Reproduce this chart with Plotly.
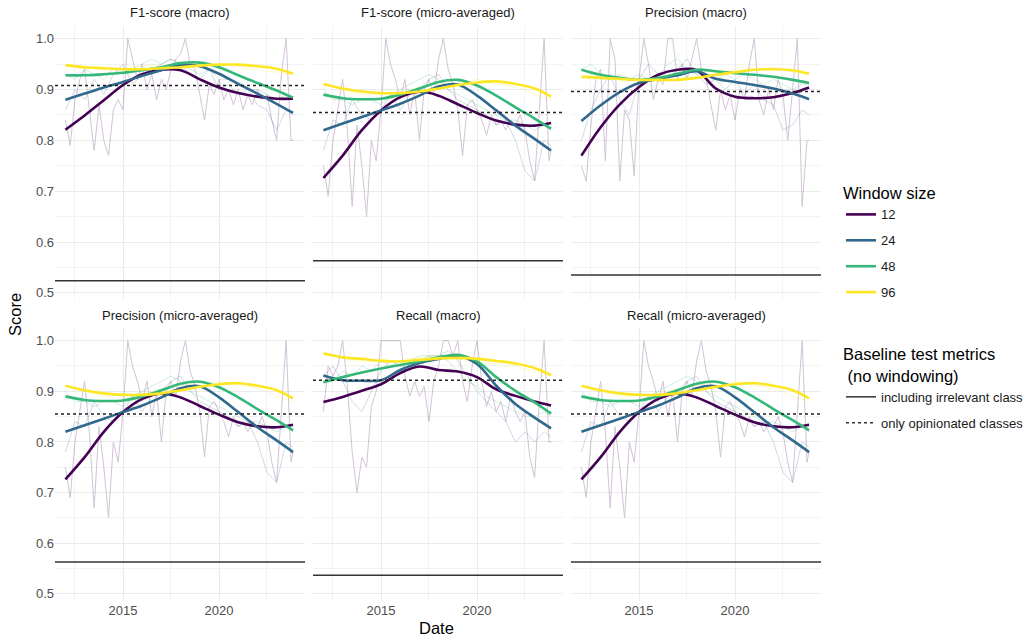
import plotly.graph_objects as go

# ---------------- data ----------------
WINDOW_SIZES = ["12", "24", "48", "96"]
COLORS = ["#440154", "#31688E", "#35B779", "#FDE725"]

PANEL_TITLES = ["F1-score (macro)", "F1-score (micro-averaged)", "Precision (macro)",
                "Precision (micro-averaged)", "Recall (macro)", "Recall (micro-averaged)"]

SMOOTH_DATES = ["2012-01-01", "2013-01-01", "2014-01-01", "2015-01-01", "2016-01-01",
                "2017-01-01", "2018-01-01", "2019-01-01", "2020-01-01", "2021-01-01",
                "2022-01-01", "2023-01-01", "2023-11-10"]
RAW_Q_DATES = [f"{y}-{m:02d}-01" for y in range(2012, 2024) for m in (1, 4, 7, 10)] + ["2023-11-10"]
RAW_H_DATES = [f"{y}-{m:02d}-01" for y in range(2012, 2024) for m in (1, 7)] + ["2023-11-10"]

X_TICKS = ["2015-01-01", "2020-01-01"]
X_TICK_TEXT = ["2015", "2020"]
X_MINOR = ["2012-07-01", "2017-07-01", "2022-07-01"]
Y_TICKS = [0.5, 0.6, 0.7, 0.8, 0.9, 1.0]
Y_MINOR = [0.55, 0.65, 0.75, 0.85, 0.95]

# smoothed trends (one value per SMOOTH_DATES entry)
F1_MACRO_SMOOTH = {
    "12": [0.821, 0.849, 0.879, 0.909, 0.930, 0.939, 0.938, 0.920, 0.904, 0.893, 0.886, 0.882, 0.882],
    "24": [0.880, 0.892, 0.904, 0.915, 0.927, 0.938, 0.948, 0.946, 0.931, 0.911, 0.892, 0.872, 0.854],
    "48": [0.928, 0.928, 0.930, 0.933, 0.938, 0.944, 0.952, 0.953, 0.944, 0.928, 0.913, 0.898, 0.884],
    "96": [0.948, 0.944, 0.942, 0.940, 0.940, 0.942, 0.944, 0.947, 0.949, 0.949, 0.946, 0.941, 0.931],
}
MICRO_SMOOTH = {
    "12": [0.726, 0.770, 0.820, 0.859, 0.885, 0.896, 0.888, 0.871, 0.854, 0.839, 0.831, 0.829, 0.834],
    "24": [0.820, 0.833, 0.846, 0.859, 0.872, 0.888, 0.906, 0.910, 0.888, 0.859, 0.829, 0.803, 0.780],
    "48": [0.890, 0.883, 0.881, 0.882, 0.890, 0.902, 0.915, 0.919, 0.908, 0.888, 0.865, 0.843, 0.823],
    "96": [0.911, 0.902, 0.896, 0.893, 0.893, 0.896, 0.902, 0.909, 0.914, 0.916, 0.911, 0.902, 0.886],
}
PREC_MACRO_SMOOTH = {
    "12": [0.770, 0.826, 0.871, 0.905, 0.929, 0.939, 0.938, 0.902, 0.886, 0.883, 0.885, 0.893, 0.904],
    "24": [0.838, 0.869, 0.895, 0.913, 0.921, 0.928, 0.936, 0.921, 0.915, 0.909, 0.902, 0.892, 0.881],
    "48": [0.939, 0.929, 0.923, 0.919, 0.923, 0.931, 0.939, 0.936, 0.932, 0.929, 0.925, 0.919, 0.913],
    "96": [0.925, 0.923, 0.921, 0.919, 0.919, 0.919, 0.923, 0.929, 0.934, 0.939, 0.940, 0.938, 0.931],
}
REC_MACRO_SMOOTH = {
    "12": [0.879, 0.889, 0.901, 0.914, 0.936, 0.949, 0.942, 0.939, 0.928, 0.904, 0.891, 0.880, 0.872],
    "24": [0.931, 0.922, 0.921, 0.922, 0.942, 0.956, 0.964, 0.970, 0.954, 0.911, 0.875, 0.848, 0.827],
    "48": [0.918, 0.928, 0.937, 0.945, 0.952, 0.959, 0.967, 0.972, 0.959, 0.928, 0.901, 0.878, 0.856],
    "96": [0.975, 0.967, 0.964, 0.960, 0.959, 0.962, 0.965, 0.966, 0.964, 0.960, 0.955, 0.946, 0.932],
}

# raw windowed scores: window 12 quarterly (RAW_Q_DATES), others half-yearly (RAW_H_DATES)
F1_MACRO_RAW = {
    "12": [0.84, 0.79, 0.88, 0.92, 0.94, 0.86, 0.78, 0.87, 0.80, 0.77, 0.86, 0.88,
           0.86, 1.00, 0.96, 0.92, 0.95, 0.90, 0.93, 0.88, 0.92, 0.90, 0.94, 0.96,
           0.97, 1.00, 0.95, 0.94, 0.89, 0.84, 0.91, 0.89, 0.92, 0.88, 0.90, 0.87,
           0.90, 0.86, 0.89, 0.87, 0.90, 0.88, 0.89, 0.84, 0.80, 0.93, 1.00, 0.80, 0.80],
    "24": [0.86, 0.90, 0.88, 0.92, 0.89, 0.93, 0.95, 0.91, 0.93, 0.94, 0.95, 0.96,
           0.95, 0.93, 0.92, 0.94, 0.90, 0.91, 0.89, 0.90, 0.87, 0.86, 0.82, 0.86, 0.85],
    "48": [0.93, 0.92, 0.94, 0.93, 0.92, 0.94, 0.93, 0.94, 0.95, 0.96, 0.95, 0.96,
           0.95, 0.94, 0.93, 0.94, 0.92, 0.92, 0.91, 0.90, 0.90, 0.89, 0.88, 0.89, 0.88],
    "96": [0.95, 0.945, 0.94, 0.945, 0.94, 0.94, 0.94, 0.945, 0.945, 0.95, 0.945, 0.95,
           0.95, 0.955, 0.95, 0.95, 0.945, 0.95, 0.945, 0.94, 0.94, 0.935, 0.935, 0.93, 0.93],
}
MICRO_RAW = {
    "12": [0.75, 0.69, 0.80, 0.86, 0.92, 0.82, 0.67, 0.83, 0.75, 0.65, 0.80, 0.76,
           0.86, 1.00, 0.95, 0.92, 0.88, 0.92, 0.85, 0.90, 0.80, 0.90, 0.92, 0.89,
           0.96, 1.00, 0.94, 0.91, 0.86, 0.77, 0.87, 0.88, 0.86, 0.84, 0.81, 0.85,
           0.83, 0.84, 0.82, 0.84, 0.83, 0.85, 0.82, 0.76, 0.72, 0.85, 1.00, 0.76, 0.78],
    "24": [0.78, 0.84, 0.83, 0.88, 0.85, 0.84, 0.86, 0.89, 0.86, 0.89, 0.90, 0.92,
           0.93, 0.90, 0.88, 0.87, 0.86, 0.85, 0.83, 0.84, 0.80, 0.74, 0.72, 0.80, 0.79],
    "48": [0.90, 0.88, 0.88, 0.87, 0.88, 0.88, 0.87, 0.89, 0.90, 0.91, 0.92, 0.93,
           0.92, 0.90, 0.89, 0.88, 0.87, 0.86, 0.85, 0.84, 0.84, 0.83, 0.82, 0.83, 0.82],
    "96": [0.91, 0.905, 0.90, 0.895, 0.89, 0.89, 0.895, 0.89, 0.895, 0.90, 0.905, 0.91,
           0.91, 0.915, 0.92, 0.915, 0.92, 0.915, 0.91, 0.91, 0.905, 0.90, 0.89, 0.885, 0.88],
}
PREC_MACRO_RAW = {
    "12": [0.75, 0.72, 0.83, 0.92, 0.94, 0.76, 1.00, 0.96, 0.72, 0.86, 0.84, 0.73,
           0.92, 1.00, 0.95, 0.88, 0.92, 0.91, 1.00, 1.00, 0.92, 0.95, 0.92, 0.96,
           1.00, 0.94, 0.92, 0.87, 0.82, 0.90, 0.86, 0.89, 0.84, 0.90, 0.88, 0.95,
           1.00, 0.88, 0.85, 0.90, 0.86, 0.92, 0.89, 0.80, 0.90, 1.00, 0.67, 0.80, 0.80],
    "24": [0.80, 0.86, 0.90, 0.93, 0.88, 0.85, 0.92, 0.95, 0.93, 0.92, 0.94, 0.96,
           0.93, 0.91, 0.92, 0.90, 0.92, 0.89, 0.91, 0.88, 0.87, 0.82, 0.83, 0.86, 0.85],
    "48": [0.94, 0.95, 0.93, 0.92, 0.93, 0.92, 0.93, 0.92, 0.93, 0.95, 0.96, 0.94,
           0.93, 0.93, 0.92, 0.93, 0.92, 0.93, 0.92, 0.91, 0.92, 0.91, 0.90, 0.91, 0.91],
    "96": [0.925, 0.93, 0.925, 0.92, 0.92, 0.915, 0.92, 0.92, 0.915, 0.92, 0.92, 0.925,
           0.93, 0.935, 0.935, 0.94, 0.94, 0.945, 0.94, 0.94, 0.945, 0.94, 0.935, 0.93, 0.93],
}
REC_MACRO_RAW = {
    "12": [0.86, 0.95, 0.93, 0.95, 1.00, 0.91, 0.78, 0.70, 0.77, 0.75, 0.87, 0.90,
           1.00, 1.00, 1.00, 1.00, 1.00, 0.93, 0.89, 0.92, 0.89, 0.91, 0.84, 0.92,
           0.95, 1.00, 1.00, 0.97, 1.00, 0.92, 0.88, 0.95, 1.00, 0.92, 0.87, 0.90,
           0.86, 0.88, 0.84, 0.89, 0.86, 0.84, 0.86, 0.77, 0.73, 0.88, 1.00, 0.80, 0.80],
    "24": [0.93, 0.95, 0.92, 0.88, 0.86, 0.90, 0.94, 0.96, 0.95, 0.94, 0.96, 0.97,
           0.97, 0.98, 0.96, 0.93, 0.90, 0.88, 0.86, 0.84, 0.80, 0.82, 0.80, 0.82, 0.81],
    "48": [0.93, 0.92, 0.94, 0.93, 0.95, 0.94, 0.96, 0.95, 0.96, 0.96, 0.97, 0.97,
           0.97, 0.96, 0.94, 0.92, 0.91, 0.89, 0.88, 0.87, 0.86, 0.85, 0.85, 0.86, 0.85],
    "96": [0.97, 0.97, 0.965, 0.96, 0.96, 0.96, 0.965, 0.96, 0.96, 0.965, 0.965, 0.97,
           0.97, 0.965, 0.965, 0.96, 0.96, 0.955, 0.955, 0.95, 0.95, 0.945, 0.94, 0.935, 0.93],
}

# baseline test metrics (no windowing): [including irrelevant class, only opinionated classes]
BASELINE_F1_MACRO = [0.524, 0.908]
BASELINE_MICRO = [0.563, 0.855]
BASELINE_PREC_MACRO = [0.535, 0.896]
BASELINE_REC_MACRO = [0.537, 0.922]
BASELINE_LABELS = ["including irrelevant class", "only opinionated classes"]

PANEL_SMOOTH = [F1_MACRO_SMOOTH, MICRO_SMOOTH, PREC_MACRO_SMOOTH, MICRO_SMOOTH, REC_MACRO_SMOOTH, MICRO_SMOOTH]
PANEL_RAW = [F1_MACRO_RAW, MICRO_RAW, PREC_MACRO_RAW, MICRO_RAW, REC_MACRO_RAW, MICRO_RAW]
PANEL_BASE = [BASELINE_F1_MACRO, BASELINE_MICRO, BASELINE_PREC_MACRO, BASELINE_MICRO,
              BASELINE_REC_MACRO, BASELINE_MICRO]

# ---------------- layout geometry (pixels) ----------------
W, H = 1030, 640
COL_PX = [(55, 305), (313, 563), (571, 821)]
ROW_PX = [(26, 300), (328, 601)]
FONT = "Liberation Sans, Arial, sans-serif"


def px_x(p):
    return p / W


def px_y(p):
    return 1 - p / H


fig = go.Figure()
layout = dict(
    width=W, height=H, margin=dict(l=0, r=0, t=0, b=0, autoexpand=False),
    paper_bgcolor="white", plot_bgcolor="white",
    font=dict(family=FONT, color="#1A1A1A"),
)
annotations = []
shapes = []

for i, title in enumerate(PANEL_TITLES):
    r, c = divmod(i, 3)
    n = "" if i == 0 else str(i + 1)
    xa, ya = "x" + n, "y" + n
    x0, x1 = COL_PX[c]
    y0, y1 = ROW_PX[r]
    layout["xaxis" + n] = dict(
        domain=[px_x(x0), px_x(x1)], anchor=ya, type="date",
        range=["2011-06-17", "2024-06-24"],
        tickmode="array", tickvals=X_TICKS, ticktext=X_TICK_TEXT,
        showticklabels=(r == 1), ticks="", showline=False, zeroline=False,
        showgrid=True, gridcolor="#EBEBEB", gridwidth=1,
        minor=dict(tickmode="array", tickvals=X_MINOR, showgrid=True,
                   gridcolor="#F3F3F3", gridwidth=0.7, ticks=""),
        tickfont=dict(size=13, color="#4D4D4D", family=FONT),
    )
    layout["yaxis" + n] = dict(
        domain=[px_y(y1), px_y(y0)], anchor=xa, range=[0.486, 1.025],
        tickmode="array", tickvals=Y_TICKS, tickformat=".1f",
        showticklabels=(c == 0), ticks="", showline=False, zeroline=False,
        showgrid=True, gridcolor="#EBEBEB", gridwidth=1,
        minor=dict(tickmode="array", tickvals=Y_MINOR, showgrid=True,
                   gridcolor="#F3F3F3", gridwidth=0.7, ticks=""),
        tickfont=dict(size=13, color="#4D4D4D", family=FONT),
    )
    # raw (faint) lines
    for k, w in enumerate(WINDOW_SIZES):
        dates = RAW_Q_DATES if w == "12" else RAW_H_DATES
        fig.add_trace(go.Scatter(
            x=dates, y=PANEL_RAW[i][w], mode="lines", xaxis=xa, yaxis=ya,
            line=dict(color=COLORS[k], width=1), opacity=0.23,
            showlegend=False, hoverinfo="skip"))
    # smoothed lines
    for k, w in enumerate(WINDOW_SIZES):
        fig.add_trace(go.Scatter(
            x=SMOOTH_DATES, y=PANEL_SMOOTH[i][w], mode="lines", xaxis=xa, yaxis=ya,
            line=dict(color=COLORS[k], width=2.6, shape="spline", smoothing=1.0),
            name=w, legendgroup="w" + w, legend="legend", showlegend=(i == 0)))
    # baselines
    base = PANEL_BASE[i]
    shapes.append(dict(type="line", xref=xa + " domain", x0=0, x1=1, yref=ya,
                       y0=base[0], y1=base[0], line=dict(color="#333333", width=1.5)))
    shapes.append(dict(type="line", xref=xa + " domain", x0=0, x1=1, yref=ya,
                       y0=base[1], y1=base[1],
                       line=dict(color="#222222", width=1.5, dash="3px,3px")))
    # strip title
    annotations.append(dict(
        text=title, xref="paper", yref="paper", x=px_x((x0 + x1) / 2),
        y=px_y(y0 - 13), xanchor="center", yanchor="middle", showarrow=False,
        font=dict(size=13, color="#1A1A1A", family=FONT)))

# legend entries for the baselines
for j, (lab, dash) in enumerate(zip(BASELINE_LABELS, ["solid", "3px,3px"])):
    fig.add_trace(go.Scatter(
        x=[None], y=[None], mode="lines", name=lab, legend="legend2",
        legendgroup="b%d" % j, line=dict(color="#333333", width=1.5, dash=dash)))

annotations.append(dict(text="Score", xref="paper", yref="paper", x=px_x(15), y=px_y(315),
                        textangle=-90, showarrow=False, xanchor="center", yanchor="middle",
                        font=dict(size=16.5, color="#000000", family=FONT)))
annotations.append(dict(text="Date", xref="paper", yref="paper", x=px_x(436), y=px_y(628),
                        showarrow=False, xanchor="center", yanchor="middle",
                        font=dict(size=16.5, color="#000000", family=FONT)))

layout["annotations"] = annotations
layout["shapes"] = shapes
layout["legend"] = dict(
    x=px_x(841), y=px_y(178), xanchor="left", yanchor="top",
    title=dict(text="Window size", font=dict(size=16.5, color="#000000", family=FONT)),
    font=dict(size=13, color="#1A1A1A", family=FONT), tracegroupgap=6,
    bgcolor="rgba(0,0,0,0)", itemwidth=30)
layout["legend2"] = dict(
    x=px_x(841), y=px_y(339), xanchor="left", yanchor="top",
    title=dict(text="Baseline test metrics<br> (no windowing)",
               font=dict(size=16.5, color="#000000", family=FONT)),
    font=dict(size=13, color="#1A1A1A", family=FONT), tracegroupgap=6,
    bgcolor="rgba(0,0,0,0)", itemwidth=30)

fig.update_layout(**layout)
fig.write_html("out.html", config={"displayModeBar": False},
               post_script="document.body.style.margin='0';")
